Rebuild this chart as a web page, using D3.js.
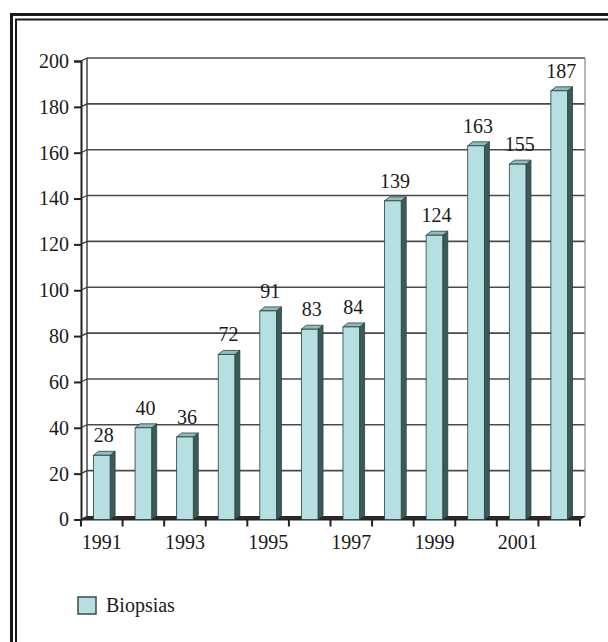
<!DOCTYPE html>
<html><head><meta charset="utf-8">
<script src="https://cdn.jsdelivr.net/npm/d3@7"></script>
<style>body{margin:0;background:#fff}svg{display:block}</style>
</head><body>
<svg id="c" width="608" height="642"></svg>
<script>
const years = ["1991","1992","1993","1994","1995","1996","1997","1998","1999","2000","2001","2002"];
const values = [28,40,36,72,91,83,84,139,124,163,155,187];
const yTicks = [0,20,40,60,80,100,120,140,160,180,200];
const xLabels = ["1991","1993","1995","1997","1999","2001"];
const seriesName = "Biopsias";

(function(){
const svg = d3.select("#c");
const font = "'Liberation Serif','DejaVu Serif',serif";
const FONT_SIZE = 20;

// frame (double line, left + top)
const frame = svg.append("g").attr("stroke","#1a1a1a").attr("fill","none");
frame.append("path").attr("d","M11.5,642V14.5H608").attr("stroke-width",3);
frame.append("path").attr("d","M16,642V19.5H608").attr("stroke-width",2);

const x = d3.scaleBand().domain(years).range([81,580]).paddingInner(0.6).paddingOuter(0.3);
const y = d3.scaleLinear().domain([0,200]).range([519.5,61]);

const wdx = 6, wdy = -3;   // back wall offset
const bdx = 5, bdy = -4;   // bar depth offset
const x0 = x.range()[0], x1 = x.range()[1];

// gridlines on back wall
svg.append("g").selectAll("line").data(yTicks.filter(d=>d>0)).join("line")
  .attr("x1",x0+wdx).attr("x2",x1+wdx-1)
  .attr("y1",d=>y(d)+wdy).attr("y2",d=>y(d)+wdy)
  .attr("stroke","#4a4a4a").attr("stroke-width",1.6);

// walls: back-left edge, right edge
svg.append("line").attr("x1",x0+wdx).attr("x2",x0+wdx).attr("y1",y(200)+wdy).attr("y2",y(0)+wdy)
  .attr("stroke","#444").attr("stroke-width",1.5);
svg.append("line").attr("x1",x1+wdx-1).attr("x2",x1+wdx-1).attr("y1",y(200)+wdy).attr("y2",y(0)+wdy)
  .attr("stroke","#888").attr("stroke-width",1.2);

// floor
svg.append("path")
  .attr("d",`M${x0},${y(0)}L${x1},${y(0)}L${x1+wdx-1},${y(0)+wdy}L${x0+wdx},${y(0)+wdy}Z`)
  .attr("fill","#2e2e2e").attr("stroke","#222").attr("stroke-width",1);

// y axis
const yAxis = svg.append("g").attr("transform",`translate(${x0},0)`)
  .call(d3.axisLeft(y).tickValues(yTicks).tickSize(7).tickPadding(5));
yAxis.attr("font-size",FONT_SIZE).attr("font-family",font);
yAxis.select(".domain").attr("stroke","#222").attr("stroke-width",2);
yAxis.selectAll(".tick line").attr("stroke","#222").attr("stroke-width",2);
yAxis.selectAll(".tick text").attr("font-family",font).attr("font-size",FONT_SIZE).attr("fill","#1a1a1a");
// connectors from axis to wall
svg.append("g").selectAll("line").data(yTicks).join("line")
  .attr("x1",x0).attr("x2",x0+wdx).attr("y1",d=>y(d)).attr("y2",d=>y(d)+wdy)
  .attr("stroke","#333").attr("stroke-width",1.2);

// x axis ticks at category boundaries
const step = x.step();
const bounds = d3.range(years.length+1).map(i=>x0+i*step);
svg.append("g").selectAll("line").data(bounds).join("line")
  .attr("x1",d=>d).attr("x2",d=>d).attr("y1",y(0)).attr("y2",y(0)+7)
  .attr("stroke","#222").attr("stroke-width",2);
svg.append("line").attr("x1",x0).attr("x2",x1).attr("y1",y(0)).attr("y2",y(0))
  .attr("stroke","#222").attr("stroke-width",2);

const xAxis = svg.append("g").attr("transform",`translate(0,${y(0)})`)
  .call(d3.axisBottom(x).tickValues(xLabels).tickSize(0).tickPadding(15));
xAxis.attr("font-size",FONT_SIZE).attr("font-family",font);
xAxis.select(".domain").remove();
xAxis.selectAll(".tick text").attr("font-family",font).attr("font-size",FONT_SIZE).attr("fill","#1a1a1a");

// bars (3D)
const cFront = "#b6dfe2", cSide = "#3d5a5b", cTop = "#8fbcc0", cEdge = "#2b3d3e";
const bars = svg.append("g").selectAll("g").data(values).join("g");
bars.append("path") // side
  .attr("d",(d,i)=>{const r=x(years[i])+x.bandwidth(), t=y(d), b=y(0);
    return `M${r},${b}L${r},${t}L${r+bdx},${t+bdy}L${r+bdx},${b+bdy}Z`;})
  .attr("fill",cSide).attr("stroke",cEdge).attr("stroke-width",0.8);
bars.append("path") // top
  .attr("d",(d,i)=>{const l=x(years[i]), r=l+x.bandwidth(), t=y(d);
    return `M${l},${t}L${l+bdx},${t+bdy}L${r+bdx},${t+bdy}L${r},${t}Z`;})
  .attr("fill",cTop).attr("stroke",cEdge).attr("stroke-width",0.8);
bars.append("rect") // front
  .attr("x",(d,i)=>x(years[i])).attr("y",d=>y(d))
  .attr("width",x.bandwidth()).attr("height",d=>y(0)-y(d))
  .attr("fill",cFront).attr("stroke",cEdge).attr("stroke-width",0.8);

// value labels
svg.append("g").selectAll("text").data(values).join("text")
  .attr("x",(d,i)=>x(years[i])+x.bandwidth()/2+2)
  .attr("y",d=>y(d)+bdy-9)
  .attr("text-anchor","middle")
  .attr("font-family",font).attr("font-size",FONT_SIZE).attr("fill","#1a1a1a")
  .text(d=>d);

// legend
const lg = svg.append("g").attr("transform","translate(78,597)");
lg.append("rect").attr("width",18).attr("height",17).attr("fill",cFront).attr("stroke","#3a4a4b").attr("stroke-width",1.5);
lg.append("text").attr("x",28).attr("y",15).attr("font-family",font).attr("font-size",FONT_SIZE)
  .attr("fill","#1a1a1a").text(seriesName);
})();
</script>
</body></html>
